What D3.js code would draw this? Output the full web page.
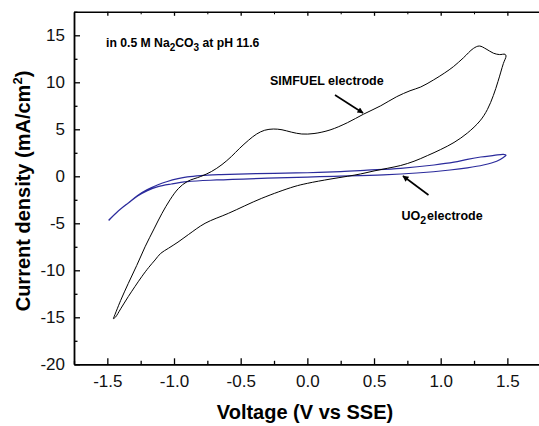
<!DOCTYPE html>
<html><head><meta charset="utf-8">
<script src="https://cdn.jsdelivr.net/npm/d3@7"></script>
<style>body{margin:0;background:#fff}svg{display:block}text{font-family:"Liberation Sans",Arial,sans-serif}</style>
</head><body><svg id="c" width="539" height="426"></svg>
<script>
// ---- data (V vs SSE, mA/cm2) ----
const xTicks = [-1.5, -1.0, -0.5, 0.0, 0.5, 1.0, 1.5];
const xTickLabels = ["-1.5", "-1.0", "-0.5", "0.0", "0.5", "1.0", "1.5"];
const yTicks = [-20, -15, -10, -5, 0, 5, 10, 15];
const yTickLabels = ["-20", "-15", "-10", "-5", "0", "5", "10", "15"];

const simfuelForward = [[-1.455,-15.15],[-1.40,-13.2],[-1.343,-11.4],[-1.28,-9.5],[-1.217,-7.5],[-1.15,-5.6],[-1.09,-3.94],[-1.03,-2.5],[-0.967,-1.3],[-0.9,-0.55],[-0.8,-0.02],[-0.72,0.5],[-0.64,1.25],[-0.57,2.1],[-0.51,2.95],[-0.44,3.85],[-0.38,4.5],[-0.32,4.9],[-0.255,5.03],[-0.19,4.95],[-0.12,4.7],[-0.042,4.5],[0.05,4.55],[0.17,4.93],[0.3,5.7],[0.42,6.6],[0.55,7.5],[0.67,8.47],[0.77,9.1],[0.85,9.5],[0.945,10.24],[1.03,11.0],[1.095,11.66],[1.17,12.6],[1.245,13.6],[1.29,13.86],[1.34,13.55],[1.395,13.1],[1.44,12.95],[1.483,12.98]];
const simfuelReverse = [[1.49,12.8],[1.47,12.0],[1.43,10.1],[1.395,8.6],[1.35,7.1],[1.295,5.9],[1.2,4.6],[1.1,3.6],[1.0,2.85],[0.9,2.2],[0.8,1.6],[0.7,1.15],[0.6,0.85],[0.5,0.57],[0.4,0.25],[0.3,0.0],[0.17,-0.3],[0.0,-0.75],[-0.1,-1.1],[-0.342,-2.34],[-0.592,-3.94],[-0.767,-5.0],[-0.892,-6.2],[-0.97,-7.0],[-1.042,-7.66],[-1.1,-8.2],[-1.142,-8.9],[-1.19,-9.7],[-1.242,-10.68],[-1.343,-12.8],[-1.40,-14.1],[-1.44,-15.0],[-1.455,-15.15]];

const uo2Forward = [[-1.49,-4.7],[-1.42,-3.72],[-1.34,-2.8],[-1.27,-2.02],[-1.2,-1.42],[-1.12,-0.9],[-1.05,-0.55],[-0.97,-0.25],[-0.9,-0.06],[-0.8,0.08],[-0.65,0.18],[-0.45,0.26],[-0.25,0.32],[0.0,0.38],[0.25,0.5],[0.45,0.65],[0.7,0.85],[0.95,1.2],[1.1,1.5],[1.2,1.8],[1.3,2.05],[1.4,2.22],[1.47,2.33],[1.49,2.25]];
const uo2Reverse = [[1.47,2.0],[1.42,1.6],[1.32,1.2],[1.2,0.9],[1.07,0.67],[0.82,0.35],[0.57,0.15],[0.2,0.0],[0.0,-0.08],[-0.3,-0.2],[-0.68,-0.39],[-0.9,-0.57],[-1.02,-0.82],[-1.12,-1.1],[-1.2,-1.52],[-1.27,-2.07],[-1.34,-2.82],[-1.42,-3.72],[-1.49,-4.68]];

// ---- layout ----
const svg = d3.select("#c");
const x = d3.scaleLinear().domain([-1.75, 1.75]).range([74, 540.7]);
const y = d3.scaleLinear().domain([-20, 17.5]).range([364.3, 11.8]);
const tickFont = 17;

const line = d3.line().x(d => x(d[0])).y(d => y(d[1])).curve(d3.curveCatmullRom.alpha(0.5));

svg.append("path").datum(uo2Forward.concat(uo2Reverse))
  .attr("d", line).attr("fill", "none").attr("stroke", "#2b2b9c").attr("stroke-width", 1.2);
svg.append("path").datum(simfuelForward.concat(simfuelReverse))
  .attr("d", line).attr("fill", "none").attr("stroke", "#000").attr("stroke-width", 1);

// minor ticks
const xMinor = d3.range(-1.75, 1.76, 0.25).filter(v => !xTicks.some(t => Math.abs(t - v) < 1e-6));
const yMinor = d3.range(-17.5, 17.6, 5);

function styleAxis(g) {
  g.select(".domain").attr("stroke", "#000").attr("stroke-width", 1.8);
  g.selectAll(".tick line").attr("stroke", "#000").attr("stroke-width", 1.3);
  g.selectAll("text").attr("font-size", tickFont).attr("fill", "#111").style("font-family", "Liberation Sans, Arial, sans-serif");
}

// bottom axis
const gx = svg.append("g").attr("transform", `translate(0,${y(-20)})`)
  .call(d3.axisBottom(x).tickValues(xTicks).tickFormat((d, i) => xTickLabels[i]).tickSizeInner(-6).tickSizeOuter(0).tickPadding(11));
styleAxis(gx);
svg.append("g").attr("transform", `translate(0,${y(-20)})`)
  .call(d3.axisBottom(x).tickValues(xMinor).tickFormat("").tickSizeInner(-3.5).tickSizeOuter(0))
  .call(g => { g.select(".domain").remove(); g.selectAll("line").attr("stroke", "#000").attr("stroke-width", 1.3); });

// top axis (frame)
const gt = svg.append("g").attr("transform", `translate(0,${y(17.5)})`)
  .call(d3.axisTop(x).tickValues(xTicks).tickFormat("").tickSizeInner(-4).tickSizeOuter(0));
styleAxis(gt);
gt.select(".domain").attr("stroke-width", 1.5);
svg.append("g").attr("transform", `translate(0,${y(17.5)})`)
  .call(d3.axisTop(x).tickValues(xMinor).tickFormat("").tickSizeInner(-2.5).tickSizeOuter(0))
  .call(g => { g.select(".domain").remove(); g.selectAll("line").attr("stroke", "#000").attr("stroke-width", 1); });

// left axis
const gy = svg.append("g").attr("transform", `translate(${x(-1.75)},0)`)
  .call(d3.axisLeft(y).tickValues(yTicks).tickFormat((d, i) => yTickLabels[i]).tickSizeInner(-6).tickSizeOuter(0).tickPadding(9));
styleAxis(gy);
svg.append("g").attr("transform", `translate(${x(-1.75)},0)`)
  .call(d3.axisLeft(y).tickValues(yMinor).tickFormat("").tickSizeInner(-3.5).tickSizeOuter(0))
  .call(g => { g.select(".domain").remove(); g.selectAll("line").attr("stroke", "#000").attr("stroke-width", 1.3); });

// axis titles
svg.append("text").attr("x", 305).attr("y", 419).attr("text-anchor", "middle")
  .attr("font-size", 20).attr("font-weight", "bold").text("Voltage (V vs SSE)");
const yt = svg.append("text").attr("transform", "translate(30,191) rotate(-90)").attr("text-anchor", "middle")
  .attr("font-size", 20).attr("font-weight", "bold");
yt.append("tspan").text("Current density (mA/cm");
yt.append("tspan").attr("font-size", 13).attr("dy", -8).text("2");
yt.append("tspan").attr("dy", 8).text(")");

// annotations
const a1 = svg.append("text").attr("x", 106).attr("y", 46.5).attr("font-size", 12.2).attr("font-weight", "bold");
a1.append("tspan").text("in 0.5 M Na");
a1.append("tspan").attr("dy", 4).attr("font-size", 10).text("2");
a1.append("tspan").attr("dy", -4).text("CO");
a1.append("tspan").attr("dy", 4).attr("font-size", 10).text("3");
a1.append("tspan").attr("dy", -4).text(" at pH 11.6");

svg.append("text").attr("x", 270).attr("y", 84.5).attr("font-size", 12.5).attr("font-weight", "bold").text("SIMFUEL electrode");
const a3 = svg.append("text").attr("x", 401.5).attr("y", 220).attr("font-size", 12.5).attr("font-weight", "bold");
a3.append("tspan").text("UO");
a3.append("tspan").attr("dy", 4).attr("font-size", 10.5).text("2");
a3.append("tspan").attr("dy", -4).attr("dx", 1).text("electrode");

// arrows
const defs = svg.append("defs");
defs.append("marker").attr("id", "ah").attr("viewBox", "0 0 10 10").attr("refX", 9).attr("refY", 5)
  .attr("markerWidth", 10).attr("markerHeight", 6).attr("orient", "auto").attr("markerUnits", "userSpaceOnUse")
  .append("path").attr("d", "M0,0 L10,5 L0,10 Z").attr("fill", "#000");
svg.append("line").attr("x1", 335).attr("y1", 95).attr("x2", 363).attr("y2", 113)
  .attr("stroke", "#000").attr("stroke-width", 1.6).attr("marker-end", "url(#ah)");
svg.append("line").attr("x1", 428.5).attr("y1", 195).attr("x2", 403).attr("y2", 176)
  .attr("stroke", "#000").attr("stroke-width", 1.6).attr("marker-end", "url(#ah)");
</script></body></html>
